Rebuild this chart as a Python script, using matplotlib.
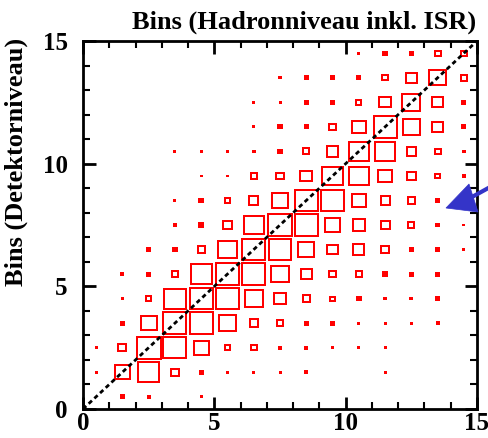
import numpy as np
import matplotlib
matplotlib.use("Agg")
import matplotlib.pyplot as plt
from matplotlib.patches import Rectangle, Polygon
from matplotlib.ticker import MultipleLocator

# Axis titles and ticks
x_title = "Bins (Hadronniveau inkl. ISR)"
y_title = "Bins (Detektorniveau)"
major_ticks = [0, 5, 10, 15]
tick_labels = ["0", "5", "10", "15"]
n_bins = 15

# Box size (fraction of the bin width) per cell.
# Each list is one detector-level bin (row), indexed by hadron-level bin (column 0..14).
row_00 = [0.00, 0.20, 0.15, 0.00, 0.10, 0.00, 0.00, 0.00, 0.00, 0.00, 0.00, 0.00, 0.00, 0.00, 0.00]
row_01 = [0.10, 0.65, 0.90, 0.38, 0.20, 0.10, 0.10, 0.10, 0.15, 0.00, 0.00, 0.10, 0.00, 0.00, 0.00]
row_02 = [0.10, 0.38, 0.98, 0.95, 0.65, 0.30, 0.30, 0.15, 0.15, 0.10, 0.10, 0.10, 0.00, 0.00, 0.00]
row_03 = [0.00, 0.20, 0.68, 0.95, 0.95, 0.75, 0.38, 0.32, 0.20, 0.20, 0.10, 0.10, 0.10, 0.15, 0.00]
row_04 = [0.00, 0.10, 0.27, 0.90, 0.95, 0.95, 0.75, 0.50, 0.35, 0.25, 0.22, 0.15, 0.15, 0.22, 0.00]
row_05 = [0.00, 0.15, 0.20, 0.30, 0.88, 0.95, 0.95, 0.75, 0.50, 0.32, 0.30, 0.22, 0.20, 0.20, 0.00]
row_06 = [0.00, 0.00, 0.20, 0.20, 0.35, 0.77, 0.97, 0.95, 0.70, 0.47, 0.50, 0.40, 0.20, 0.20, 0.12]
row_07 = [0.00, 0.00, 0.00, 0.18, 0.22, 0.40, 0.85, 0.97, 0.95, 0.68, 0.55, 0.42, 0.30, 0.20, 0.12]
row_08 = [0.00, 0.00, 0.00, 0.10, 0.22, 0.28, 0.42, 0.68, 0.97, 0.92, 0.60, 0.42, 0.35, 0.20, 0.00]
row_09 = [0.00, 0.00, 0.00, 0.00, 0.10, 0.10, 0.30, 0.35, 0.52, 0.85, 0.85, 0.60, 0.43, 0.25, 0.15]
row_10 = [0.00, 0.00, 0.00, 0.10, 0.10, 0.10, 0.15, 0.20, 0.32, 0.50, 0.83, 0.85, 0.42, 0.30, 0.15]
row_11 = [0.00, 0.00, 0.00, 0.00, 0.00, 0.00, 0.10, 0.20, 0.20, 0.32, 0.60, 0.95, 0.72, 0.50, 0.20]
row_12 = [0.00, 0.00, 0.00, 0.00, 0.00, 0.00, 0.10, 0.10, 0.20, 0.20, 0.28, 0.50, 0.75, 0.50, 0.20]
row_13 = [0.00, 0.00, 0.00, 0.00, 0.00, 0.00, 0.00, 0.12, 0.20, 0.20, 0.20, 0.30, 0.50, 0.70, 0.33]
row_14 = [0.00, 0.00, 0.00, 0.00, 0.00, 0.00, 0.00, 0.00, 0.00, 0.00, 0.12, 0.20, 0.20, 0.30, 0.30]

box_rows = [row_00, row_01, row_02, row_03, row_04, row_05, row_06, row_07,
            row_08, row_09, row_10, row_11, row_12, row_13, row_14]

W, H, DPI = 488, 438, 100
fig = plt.figure(figsize=(W / DPI, H / DPI), dpi=DPI)
fig.patch.set_facecolor("white")
ax = fig.add_axes([83 / W, 1 - 409 / H, (477 - 83) / W, (409 - 41) / H])

font = {"family": ["Liberation Serif", "DejaVu Serif"], "weight": "bold"}

ax.set_xlim(0, n_bins)
ax.set_ylim(0, n_bins)

# Outline width in pixels and in data units, so the outer edge of each box
# matches its nominal size
lw_px = 2.0
lw_pt = lw_px * 72 / DPI
px_per_x = (477 - 83) / n_bins
px_per_y = (409 - 41) / n_bins
lw_dx = lw_px / px_per_x
lw_dy = lw_px / px_per_y

# Migration matrix drawn as ROOT-style boxes
red = "#ff0000"
for j, row in enumerate(box_rows):
    for i, s in enumerate(row):
        if s <= 0:
            continue
        cx, cy = i + 0.5, j + 0.5
        hole_px = s * px_per_x - 2 * lw_px
        if hole_px < 2.0:
            # outline would close up: draw a solid square of the same outer size
            sz = max(s, 3.0 / px_per_x)
            szy = sz * px_per_x / px_per_y * (px_per_y / px_per_x)
            ax.add_patch(Rectangle((cx - sz / 2, cy - szy / 2), sz, szy,
                                   facecolor=red, edgecolor="none", zorder=2))
        else:
            w = s - lw_dx
            h = s - lw_dy
            ax.add_patch(Rectangle((cx - w / 2, cy - h / 2), w, h, fill=False,
                                   edgecolor=red, linewidth=lw_pt,
                                   joinstyle="miter", zorder=2))

# Diagonal
ax.plot([0, n_bins], [0, n_bins], color="black", linewidth=2.0,
        dashes=(1.6, 1.2), zorder=3)

ax.set_xticks(major_ticks)
ax.set_yticks(major_ticks)
ax.set_xticklabels(tick_labels, fontdict=dict(size=18, **font))
ax.set_yticklabels(tick_labels, fontdict=dict(size=18, **font))
ax.xaxis.set_minor_locator(MultipleLocator(1))
ax.yaxis.set_minor_locator(MultipleLocator(1))
ax.tick_params(which="major", direction="in", top=True, right=True,
               length=9, width=2.0, color="black")
ax.tick_params(which="minor", direction="in", top=True, right=True,
               length=5, width=1.5, color="black")
ax.tick_params(axis="x", which="major", pad=2)
ax.tick_params(axis="y", which="major", pad=11)
for sp in ax.spines.values():
    sp.set_linewidth(2.0)
    sp.set_color("black")

# Axis titles, ROOT-like placement
fig.text(476 / W, 1 - 22 / H, x_title, ha="right", va="center", size=19, **font)
fig.text(16 / W, 1 - 38 / H, y_title, ha="center", va="top", rotation=90,
         size=19, **font)

# Blue pointer arrow at the right edge
arrow_col = "#3434c8"
fig.add_artist(Polygon([(446 / W, 1 - 208 / H), (469 / W, 1 - 184 / H), (478 / W, 1 - 212 / H)],
                       closed=True, transform=fig.transFigure, facecolor=arrow_col,
                       edgecolor=arrow_col, linewidth=0.5))
fig.add_artist(plt.Line2D([472 / W, 492 / W], [1 - 197 / H, 1 - 186 / H],
                          transform=fig.transFigure, color=arrow_col, linewidth=3.0))

fig.savefig("out.png", dpi=DPI, facecolor="white")
